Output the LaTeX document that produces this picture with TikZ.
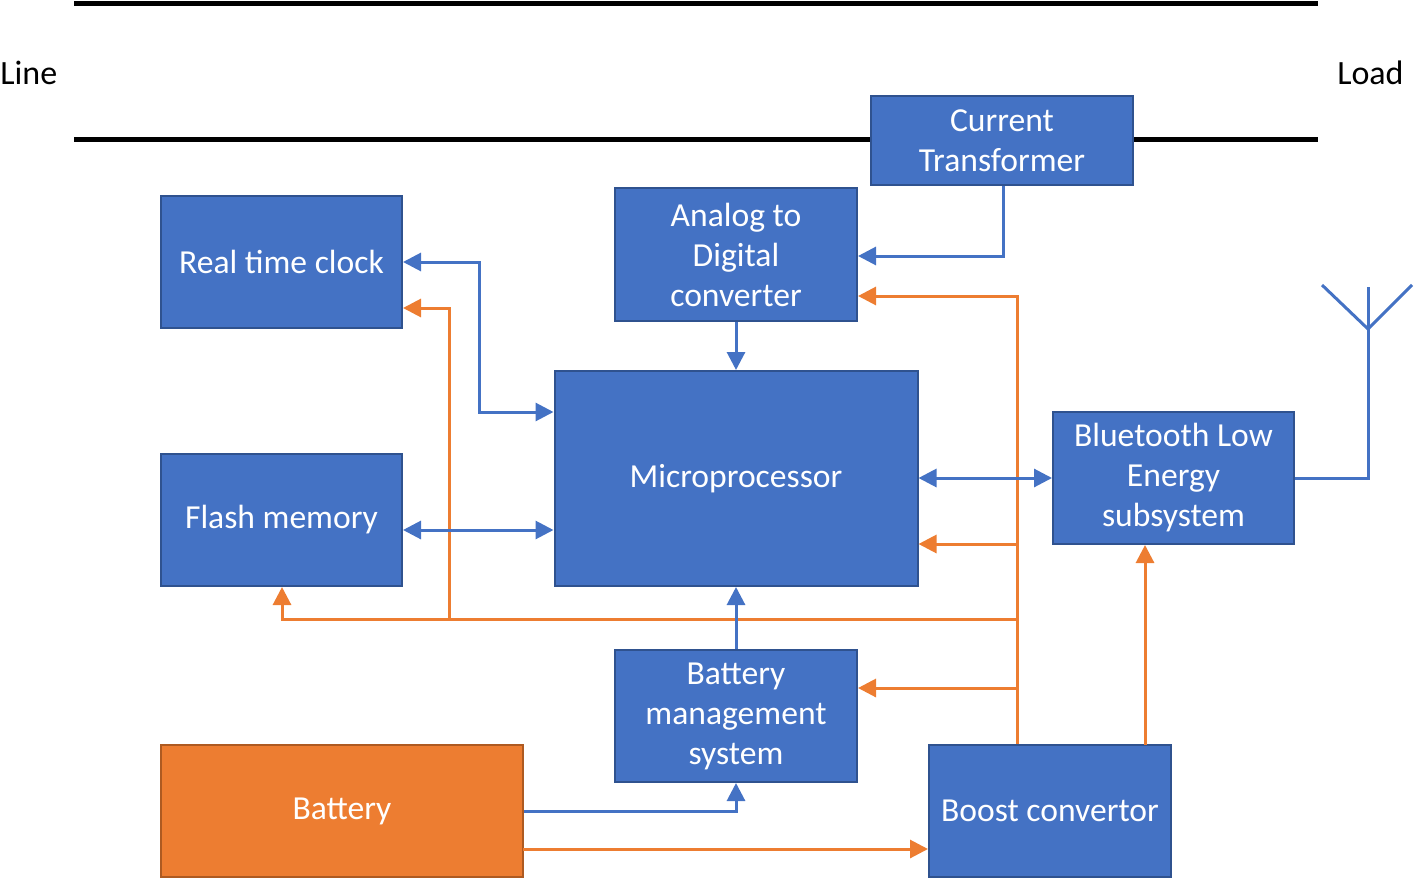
\documentclass[tikz,border=0pt]{standalone}
\usepackage{fontspec}
\setmainfont{Carlito}
\usetikzlibrary{arrows.meta}
\definecolor{bfill}{HTML}{4472C4}
\definecolor{bdraw}{HTML}{2F528F}
\definecolor{ofill}{HTML}{ED7D31}
\definecolor{odraw}{HTML}{AE5A21}
\tikzset{
  blk/.style={draw=bdraw, fill=bfill, line width=1pt, text=white, align=center, inner sep=0pt, font=\fontsize{16.8}{20}\selectfont},
  bl/.style={draw=bfill, line width=1.5pt},
  ol/.style={draw=ofill, line width=1.5pt},
  tip/.style={-{Triangle[length=9pt,width=9pt]}},
  tips/.style={{Triangle[length=9pt,width=9pt]}-{Triangle[length=9pt,width=9pt]}},
  lbl/.style={font=\fontsize{17}{20}\selectfont, inner sep=0pt}
}
\begin{document}
\begin{tikzpicture}[x=0.5pt,y=-0.5pt]
\useasboundingbox (0,0) rectangle (1416,882);
% power line
\draw[line width=2.5pt] (74,4) -- (1318,4);
\draw[line width=2.5pt] (74,140) -- (1318,140);
\node[lbl, anchor=west] (line) at (0,73) {Line};
\node[lbl, anchor=east] (load) at (1404,73) {Load};
% blocks
\node[blk, minimum width=131pt, minimum height=44.5pt] (CT) at (1002,140.5) {Current\\Transformer};
\node[blk, minimum width=120.5pt, minimum height=66pt] (RTC) at (281.5,262) {Real time clock};
\node[blk, minimum width=121pt, minimum height=66.5pt] (ADC) at (736,254.5) {Analog to\\Digital\\converter};
\node[blk, minimum width=181.5pt, minimum height=107.5pt] (MCU) at (736,478.5) {Microprocessor};
\node[blk, minimum width=120.5pt, minimum height=66pt] (FL) at (281.5,520) {Flash memory};
\node[blk, minimum width=120.5pt, minimum height=66pt] (BLE) at (1173.5,478) {Bluetooth Low\\Energy\\subsystem};
\node[blk, minimum width=121pt, minimum height=66pt] (BMS) at (736,716) {Battery\\management\\system};
\node[blk, draw=odraw, fill=ofill, minimum width=181pt, minimum height=66pt] (BAT) at (342,811) {Battery};
\node[blk, minimum width=121pt, minimum height=66pt] (BST) at (1050,811) {Boost convertor};
% coordinates
\coordinate (ctb) at (1003,256);
\coordinate (tTop) at (1017,296);
\coordinate (tMcu) at (1017,544);
\coordinate (tBus) at (1017,619);
\coordinate (tBms) at (1017,688);
\coordinate (bRtc) at (449,619);
\coordinate (rRtc) at (449,308);
\coordinate (rb1) at (479,262);
\coordinate (rb2) at (479,412);
\coordinate (fl) at (282,619);
\coordinate (bob) at (523,849);
\coordinate (bleup) at (1145,745);
\coordinate (ant) at (1368,478);
\coordinate (antTop) at (1368,287);
\coordinate (antL) at (1322,285);
\coordinate (antM) at (1368,329);
\coordinate (antR) at (1412,285);
% orange power connectors
\draw[ol, tip] (BST.north -| tTop) -- (tTop) -- (tTop -| ADC.east);
\draw[ol, tip] (tMcu) -- (tMcu -| MCU.east);
\draw[ol, tip] (tBus) -- (fl) -- (fl |- FL.south);
\draw[ol, tip] (bRtc) -- (rRtc) -- (rRtc -| RTC.east);
\draw[ol, tip] (tBms) -- (tBms -| BMS.east);
\draw[ol, tip] (bleup) -- (bleup |- BLE.south);
\draw[ol, tip] (bob) -- (bob -| BST.west);
% blue signal connectors
\draw[bl, tip] (CT.south -| ctb) -- (ctb) -- (ctb -| ADC.east);
\draw[bl, tip] (ADC.south) -- (MCU.north);
\draw[bl, tip] (BMS.north) -- (MCU.south);
\draw[bl, tip] (BAT.east) -| (BMS.south);
\draw[bl, tips] (RTC.east) -- (rb1) -- (rb2) -- (rb2 -| MCU.west);
\draw[bl, tips] (FL.east |- 0,530) -- (MCU.west |- 0,530);
\draw[bl, tips] (MCU.east |- 0,478) -- (BLE.west);
% antenna
\draw[bl] (BLE.east) -- (ant) -- (antTop);
\draw[bl] (antL) -- (antM) -- (antR);
\end{tikzpicture}
\end{document}
